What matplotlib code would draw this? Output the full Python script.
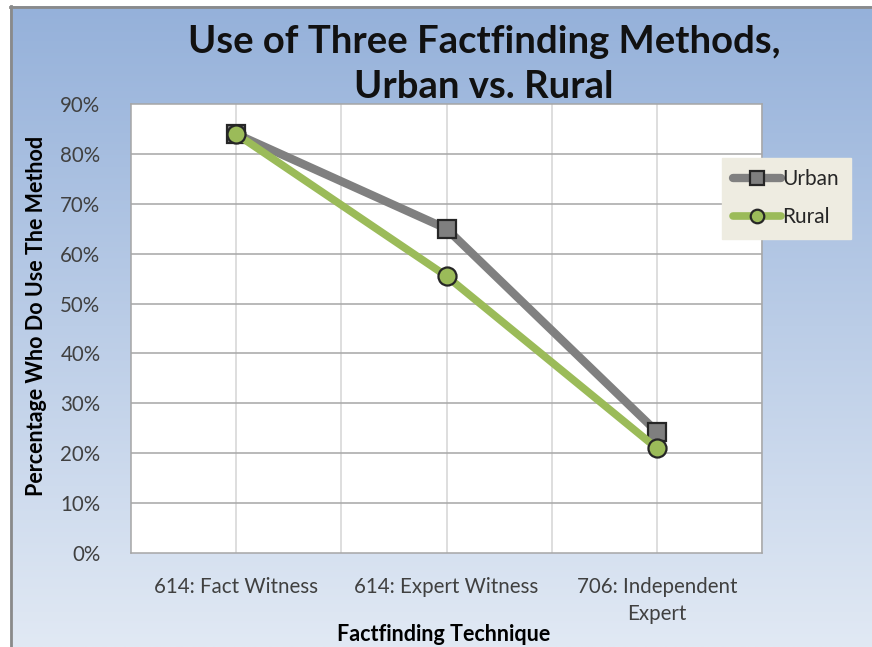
import numpy as np
import matplotlib
matplotlib.use("Agg")
import matplotlib.pyplot as plt
from matplotlib.ticker import FuncFormatter

categories = ["614: Fact Witness", "614: Expert Witness", "706: Independent\nExpert"]
urban = [0.84, 0.65, 0.243]
rural = [0.84, 0.555, 0.21]
yticks = [0.0, 0.1, 0.2, 0.3, 0.4, 0.5, 0.6, 0.7, 0.8, 0.9]

plt.rcParams['font.family'] = ['Lato', 'DejaVu Sans']

W, H = 872, 647
fig = plt.figure(figsize=(W / 100, H / 100), dpi=100)
fig.patch.set_facecolor('white')

# gradient background
bg = fig.add_axes([10 / W, 0, 1 - 10 / W, 1 - 6 / H], zorder=-10)
top = np.array([0x95, 0xb1, 0xda]) / 255
bot = np.array([0xe1, 0xe9, 0xf4]) / 255
t = np.linspace(0, 1, 256)[:, None]
grad = top[None, :] * (1 - t) + bot[None, :] * t
grad = np.repeat(grad[:, None, :], 2, axis=1)
bg.imshow(grad, aspect='auto', extent=[0, 1, 0, 1], interpolation='bilinear')
bg.set_xlim(0, 1)
bg.set_ylim(0, 1)
bg.axis('off')
fig.add_artist(plt.Line2D([10.5 / W, 10.5 / W], [0, 1 - 6 / H], transform=fig.transFigure,
                          color='#8a8a8a', lw=2))
fig.add_artist(plt.Line2D([10 / W, 1], [1 - 6.5 / H, 1 - 6.5 / H], transform=fig.transFigure,
                          color='#8a8a8a', lw=2))

ax = fig.add_axes([131 / W, 1 - 553 / H, (762 - 131) / W, (553 - 104) / H])
ax.set_facecolor('white')
x = np.arange(len(categories))
ax.set_xlim(-0.5, len(categories) - 0.5)
ax.set_ylim(0, 0.9)

for yv in yticks[1:-1]:
    ax.axhline(yv, color='#a6a6a6', lw=1.1, zorder=1)
for xv in np.arange(0, 2.51, 0.5):
    ax.axvline(xv, color='#d4d4d4', lw=1.1, zorder=0.9)

ax.plot(x, urban, color='#808080', lw=6, marker='s', markersize=13,
        markerfacecolor='#7f7f7f', markeredgecolor='#262626', markeredgewidth=1.6,
        label='Urban', zorder=3, solid_capstyle='round')
ax.plot(x, rural, color='#9bbb59', lw=5.5, marker='o', markersize=13,
        markerfacecolor='#9bbb59', markeredgecolor='#262626', markeredgewidth=1.6,
        label='Rural', zorder=4, solid_capstyle='round')

ax.set_yticks(yticks)
ax.yaxis.set_major_formatter(FuncFormatter(lambda v, p: f"{int(round(v * 100))}%"))
ax.set_xticks(x)
ax.set_xticklabels(categories)
ax.tick_params(axis='both', length=0, labelsize=14.8, colors='#404040')
ax.tick_params(axis='y', pad=22)
ax.tick_params(axis='x', pad=17)
for lab in ax.get_xticklabels():
    lab.set_linespacing(1.45)
for s in ax.spines.values():
    s.set_color('#a6a6a6')
    s.set_linewidth(1.1)

ax.set_xlabel('Factfinding Technique', fontsize=15.5, fontweight='bold', color='black')
ax.xaxis.set_label_coords(0.495, -0.158)
ax.set_ylabel('Percentage Who Do Use The Method', fontsize=15.5, fontweight='bold', color='black')
ax.yaxis.set_label_coords(-0.133, 0.527)

fig.text(0.555, 1 - 42 / H, 'Use of Three Factfinding Methods,', ha='center', va='center',
         fontsize=27.5, fontweight='bold', color='#111111')
fig.text(0.555, 1 - 87 / H, 'Urban vs. Rural', ha='center', va='center',
         fontsize=27.5, fontweight='bold', color='#111111')

leg = fig.legend(loc='upper left', bbox_to_anchor=(722 / W, 1 - 158 / H), frameon=True,
                 fontsize=15, handlelength=2.3, handletextpad=0.05, borderpad=0.55,
                 labelspacing=0.85, fancybox=False, borderaxespad=0, markerscale=0.75)
leg.get_frame().set_facecolor('#eeece1')
leg.get_frame().set_edgecolor('#eeece1')
leg.get_frame().set_alpha(1)
for txt in leg.get_texts():
    txt.set_color('#262626')

fig.savefig('out.png', dpi=100, facecolor=fig.get_facecolor())
